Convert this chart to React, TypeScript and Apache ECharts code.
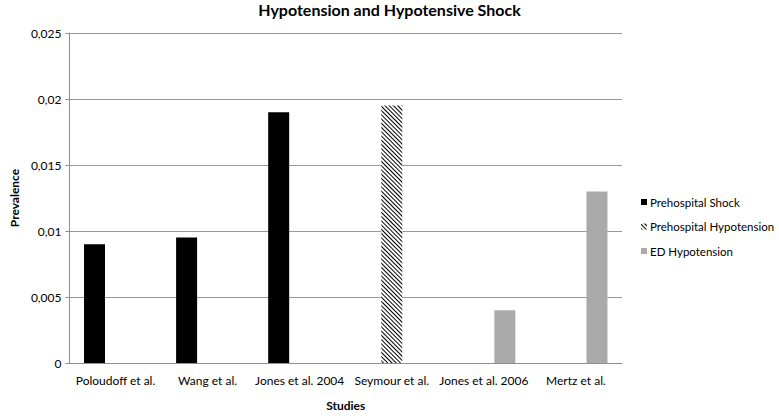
import React, { useEffect, useRef } from "react";
import * as echarts from "echarts";

const categories = ["Poloudoff et al.", "Wang et al.", "Jones et al. 2004", "Seymour et al.", "Jones et al. 2006", "Mertz et al."];
const prehospitalShock = [0.009, 0.0095, 0.019, null, null, null];
const prehospitalHypotension = [null, null, null, 0.0195, null, null];
const edHypotension = [null, null, null, null, 0.004, 0.013];
const seriesNames = ["Prehospital Shock", "Prehospital Hypotension", "ED Hypotension"];

const FONT = "Lato, 'Open Sans', sans-serif";

export default function App() {
  const ref = useRef<HTMLDivElement>(null);
  useEffect(() => {
    if (!ref.current) return;
    const chart = echarts.init(ref.current, null, { renderer: "svg" });
    chart.setOption({
      animation: false,
      backgroundColor: "#fff",
      textStyle: { fontFamily: FONT },
      title: {
        text: "Hypotension and Hypotensive Shock",
        left: "center",
        top: 0,
        padding: [1, 0, 0, 0],
        textStyle: { fontFamily: FONT, fontWeight: "bold", fontSize: 16, color: "#000" },
      },
      legend: {
        orient: "vertical",
        left: 641,
        top: 196,
        padding: 0,
        itemWidth: 6,
        itemHeight: 6,
        itemGap: 12.5,
        icon: "rect",
        data: seriesNames,
        textStyle: { fontFamily: FONT, fontSize: 11.5, color: "#000", padding: [0, 0, 0, -2] },
      },
      grid: { left: 53, right: 157, top: 33, bottom: 40 },
      xAxis: {
        type: "category",
        data: categories,
        name: "Studies",
        nameLocation: "middle",
        nameGap: 36,
        nameTextStyle: { fontFamily: FONT, fontWeight: "bold", fontSize: 12, color: "#000" },
        axisLine: { show: true, lineStyle: { color: "#909090", width: 1 } },
        axisTick: { show: false },
        axisLabel: { fontFamily: FONT, fontSize: 12, color: "#000", margin: 11, interval: 0 },
      },
      yAxis: {
        type: "value",
        min: 0,
        max: 0.025,
        interval: 0.005,
        name: "Prevalence",
        nameLocation: "middle",
        nameGap: 45,
        nameRotate: 90,
        nameTextStyle: { fontFamily: FONT, fontWeight: "bold", fontSize: 12, color: "#000" },
        axisLine: { show: true, lineStyle: { color: "#909090", width: 1 } },
        axisTick: { show: true, length: 4, lineStyle: { color: "#909090" } },
        splitLine: { show: true, lineStyle: { color: "#999999", width: 1 } },
        axisLabel: {
          fontFamily: FONT,
          fontSize: 12,
          color: "#000",
          margin: 8,
          formatter: (v: number) => String(parseFloat(v.toFixed(4))).replace(".", ","),
        },
      },
      series: [
        {
          name: seriesNames[0],
          type: "bar",
          data: prehospitalShock,
          barWidth: 21,
          barGap: "0%",
          itemStyle: { color: "#000000" },
        },
        {
          name: seriesNames[1],
          type: "bar",
          data: prehospitalHypotension,
          barWidth: 21,
          barGap: "0%",
          itemStyle: {
            color: "#ffffff",
            decal: {
              symbol: "rect",
              symbolSize: 1,
              color: "#000000",
              backgroundColor: "#ffffff",
              dashArrayX: [1, 0],
              dashArrayY: [1, 2],
              rotation: Math.PI / 4,
            },
          },
        },
        {
          name: seriesNames[2],
          type: "bar",
          data: edHypotension,
          barWidth: 21,
          barGap: "0%",
          itemStyle: { color: "#aaaaaa" },
        },
      ],
    });
    return () => chart.dispose();
  }, []);
  return (
    <div
      ref={ref}
      style={{ position: "absolute", left: 0, top: 0, width: 779, height: 416 }}
    />
  );
}
